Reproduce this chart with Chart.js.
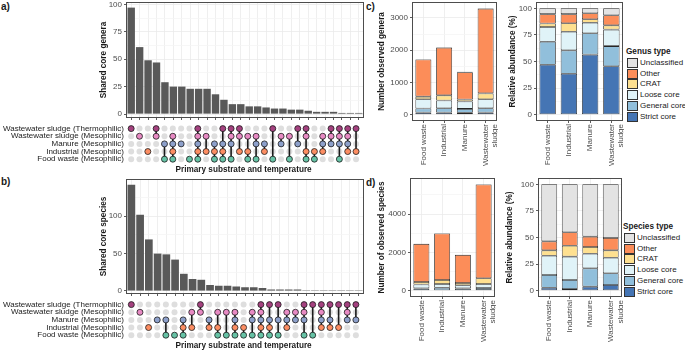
<!DOCTYPE html>
<html lang="en">
<head>
<meta charset="UTF-8">
<title>Shared core genera and species</title>
<script src="https://cdn.jsdelivr.net/npm/chart.js"></script>
<style>
  body { margin: 0; background: #fff; }
  #fig { position: relative; width: 685px; height: 352px; overflow: hidden; background: #fff;
         font-family: "Liberation Sans", Arial, sans-serif; color: #1a1a1a; }
  canvas { position: absolute; }
  .tag { position: absolute; font-weight: bold; font-size: 10px; line-height: 10px; }
  .legtitle { position: absolute; font-weight: bold; font-size: 8.2px; line-height: 10px; white-space: nowrap; }
  .leglab { position: absolute; font-size: 8px; line-height: 10px; white-space: nowrap; }
  .sw { position: absolute; width: 11px; height: 10px; box-sizing: border-box; border: 0.8px solid #333; }
</style>
</head>
<body>
<div id="fig">
  <div class="tag" style="left:1px;top:2px">a)</div>
  <div class="tag" style="left:1px;top:177px">b)</div>
  <div class="tag" style="left:366px;top:2px">c)</div>
  <div class="tag" style="left:366px;top:178px">d)</div>
</div>
<script>
// ---- data ----
// rows of the upset matrix, bottom to top
var rowNames = ['Food waste (Mesophilic)', 'Industrial (Mesophilic)', 'Manure (Mesophilic)',
                'Wastewater sludge (Mesophilic)', 'Wastewater sludge (Thermophilic)'];
var rowColors = ['#66C2A5', '#FC8D62', '#8DA0CB', '#E78AC3', '#A4417F'];

// membership of each column, written top row (WS thermophilic) -> bottom row (food waste)
var generaSets = ['10000', '01000', '00010', '11000', '00101', '01111', '00100', '00001', '11111', '01010',
                  '00111', '10111', '11101', '11010', '01011', '01101', '00110', '10001', '01100', '01001',
                  '10100', '11011', '00011', '01110', '11100', '11101', '11110', '10010'];
var generaShared = [97, 61, 49, 47, 29, 25, 25, 23, 23, 23, 18, 13, 9, 9, 7, 7, 6, 5, 5, 4, 4, 3, 2, 2, 2, 1, 1, 1];

var speciesSets = ['10000', '01000', '00010', '00100', '00101', '00001', '00111', '01010', '11000', '00110',
                   '01011', '01001', '01111', '00011', '01101', '11111', '10111', '10101', '01110', '01100',
                   '11101', '10001', '11110', '10110', '10010', '11100', '10100'];
var speciesShared = [142, 102, 69, 50, 49, 42, 23, 16, 15, 8, 7, 7, 6, 5, 5, 4, 2, 2, 2, 2, 1, 1, 1, 1, 1, 1, 1];

var matrixTitle = 'Primary substrate and temperature';

var substrates = ['Food waste', 'Industrial', 'Manure', ['Wastewater', 'sludge']];
var typeNames = ['Strict core', 'General core', 'Loose core', 'CRAT', 'Other', 'Unclassified'];
var typeColors = ['#4575B4', '#91BFDB', '#E0F3F8', '#FEE090', '#FC8D59', '#E3E3E3'];

// one row per type (same order as typeNames), one value per substrate
var genusCounts = [
  [70, 70, 60, 70],
  [120, 130, 120, 130],
  [290, 240, 230, 280],
  [80, 160, 60, 180],
  [1150, 1480, 850, 2630],
  [10, 10, 10, 10]
];
var genusRel = [
  [47, 38.5, 56.5, 45.5],
  [21.5, 22, 20, 19],
  [14, 17.5, 10, 15.5],
  [3.2, 8, 3.2, 4],
  [8.8, 8.5, 5.7, 9.5],
  [5.5, 5.5, 4.6, 6.5]
];
var speciesCounts = [
  [20, 20, 20, 30],
  [100, 130, 100, 110],
  [200, 200, 160, 210],
  [130, 210, 120, 300],
  [1990, 2430, 1470, 4890],
  [10, 10, 10, 10]
];
var speciesRel = [
  [2.8, 1.5, 3.8, 5.4],
  [12, 8.5, 17.2, 11],
  [18, 22, 13.7, 14.6],
  [5.1, 10.3, 6.3, 6.9],
  [8.5, 12.7, 9.8, 11.6],
  [53.6, 45, 49.2, 50.5]
];

// ---- chart setup ----
Chart.defaults.font.family = '"Liberation Sans", Arial, sans-serif';
Chart.defaults.font.size = 8;
Chart.defaults.color = '#4D4D4D';
Chart.defaults.plugins.legend.display = false;
Chart.defaults.plugins.tooltip.enabled = false;

var fig = document.getElementById('fig');

var panelBorder = {
  id: 'panelBorder',
  afterDraw: function (chart) {
    var a = chart.chartArea, ctx = chart.ctx;
    ctx.save();
    ctx.strokeStyle = '#4D4D4D';
    ctx.lineWidth = 1;
    ctx.strokeRect(a.left - 0.5, a.top - 0.5, a.right - a.left + 1, a.bottom - a.top + 1);
    ctx.restore();
  }
};

function makeCanvas(left, top, w, h) {
  var c = document.createElement('canvas');
  c.width = w; c.height = h;
  c.style.left = left + 'px'; c.style.top = top + 'px';
  c.style.width = w + 'px'; c.style.height = h + 'px';
  fig.appendChild(c);
  return c;
}

function baseOptions(padTop, scales) {
  return {
    responsive: false, animation: false, events: [], devicePixelRatio: 1,
    layout: { padding: { top: padTop, right: 2, left: 0, bottom: 0 } },
    scales: scales
  };
}

function yAxis(o) {
  var all = o.major.concat(o.minor);
  function isMajor(c) { return c.tick && o.major.indexOf(c.tick.value) >= 0; }
  return {
    type: 'linear', min: o.min, max: o.max, stacked: !!o.stacked,
    afterBuildTicks: function (s) { s.ticks = all.map(function (v) { return { value: v }; }); },
    afterFit: function (s) { s.width = o.width; s.paddingTop = 0; s.paddingBottom = 0; },
    ticks: { autoSkip: false, padding: 2, color: '#4D4D4D', font: { size: 8 },
             callback: function (v) { return o.major.indexOf(v) >= 0 ? String(v) : ''; } },
    grid: { tickLength: 3, lineWidth: 0.8,
            color: function (c) { return isMajor(c) ? '#EBEBEB' : '#F5F5F5'; },
            tickColor: function (c) { return isMajor(c) ? '#333333' : 'rgba(0,0,0,0)'; } },
    border: { display: false },
    title: { display: true, text: o.title, color: '#1A1A1A', font: { size: 8.2, weight: 'bold' },
             padding: { top: o.pad, bottom: 0 } }
  };
}

function catAxis(height, showLabels, stacked) {
  return {
    type: 'category', offset: true, stacked: stacked,
    afterFit: function (s) { s.height = height; s.paddingLeft = 0; s.paddingRight = 0; },
    ticks: { display: showLabels, autoSkip: false, minRotation: 90, maxRotation: 90, padding: 1,
             color: '#4D4D4D', font: { size: 8 } },
    grid: { offset: false, color: '#EBEBEB', lineWidth: 0.8, tickColor: '#333333', tickLength: 3 },
    border: { display: false }
  };
}

// upset bars
function upsetBars(left, top, w, h, padTop, sets, values, yOpt) {
  new Chart(makeCanvas(left, top, w, h), {
    type: 'bar',
    data: { labels: sets, datasets: [{ data: values, backgroundColor: '#595959',
            barPercentage: 0.88, categoryPercentage: 1 }] },
    options: baseOptions(padTop, { x: catAxis(5, false, false), y: yAxis(yOpt) }),
    plugins: [panelBorder]
  });
}

// upset dot matrix
function upsetMatrix(left, top, w, h, padTop, xHeight, titlePad, sets) {
  var datasets = [], grey = [];
  rowNames.forEach(function (name, r) {
    var on = [];
    sets.forEach(function (s, k) {
      if (s.charAt(4 - r) === '1') on.push({ x: k, y: r }); else grey.push({ x: k, y: r });
    });
    datasets.push({ data: on, order: 0, clip: false, pointRadius: 3,
                    pointBackgroundColor: rowColors[r], pointBorderColor: '#1A1A1A', pointBorderWidth: 0.8 });
  });
  sets.forEach(function (s, k) {
    var rows = [];
    for (var r = 0; r < 5; r++) if (s.charAt(4 - r) === '1') rows.push(r);
    if (rows.length > 1) {
      datasets.push({ data: [{ x: k, y: rows[0] }, { x: k, y: rows[rows.length - 1] }], order: 1,
                      showLine: true, borderColor: '#1A1A1A', borderWidth: 1.6, pointRadius: 0, clip: false });
    }
  });
  datasets.push({ data: grey, order: 2, clip: false, pointRadius: 3,
                  pointBackgroundColor: '#DEDEDE', pointBorderWidth: 0 });

  new Chart(makeCanvas(left, top, w, h), {
    type: 'scatter',
    data: { datasets: datasets },
    options: baseOptions(padTop, {
      x: { type: 'linear', min: -0.5, max: sets.length - 0.5,
           afterFit: function (s) { s.height = xHeight; s.paddingLeft = 0; s.paddingRight = 0; },
           ticks: { display: false }, grid: { display: false, drawTicks: false }, border: { display: false },
           title: { display: true, text: matrixTitle, color: '#1A1A1A', font: { size: 8.2, weight: 'bold' },
                    padding: { top: 0, bottom: titlePad } } },
      y: { type: 'linear', min: -0.5, max: 4.5,
           afterBuildTicks: function (s) { s.ticks = rowNames.map(function (nm, i) { return { value: i }; }); },
           afterFit: function (s) { s.width = 127 - left; s.paddingTop = 0; s.paddingBottom = 0; },
           ticks: { autoSkip: false, padding: 3, color: '#1A1A1A', font: { size: 8 },
                    callback: function (v) { return rowNames[v]; } },
           grid: { display: false, drawTicks: false }, border: { display: false } }
    })
  });
}

// stacked bars by substrate
function stackedChart(left, top, w, h, padTop, xHeight, rows, yOpt) {
  yOpt.stacked = true;
  new Chart(makeCanvas(left, top, w, h), {
    type: 'bar',
    data: {
      labels: substrates,
      datasets: rows.map(function (vals, i) {
        return { label: typeNames[i], data: vals, backgroundColor: typeColors[i],
                 borderColor: '#262626', borderWidth: 0.8, borderSkipped: false,
                 barPercentage: 0.77, categoryPercentage: 1 };
      })
    },
    options: baseOptions(padTop, { x: catAxis(xHeight, true, true), y: yAxis(yOpt) }),
    plugins: [panelBorder]
  });
}

function addLegend(x, titleY, firstY, title) {
  var t = document.createElement('div');
  t.className = 'legtitle'; t.textContent = title;
  t.style.left = x + 'px'; t.style.top = (titleY - 5) + 'px';
  fig.appendChild(t);
  for (var i = typeNames.length - 1, j = 0; i >= 0; i--, j++) {
    var y = firstY + j * 10.7;
    var sw = document.createElement('div');
    sw.className = 'sw'; sw.style.background = typeColors[i];
    sw.style.left = (x + 1) + 'px'; sw.style.top = Math.round(y - 5) + 'px';
    fig.appendChild(sw);
    var lb = document.createElement('div');
    lb.className = 'leglab'; lb.textContent = typeNames[i];
    lb.style.left = (x + 14) + 'px'; lb.style.top = Math.round(y - 5) + 'px';
    fig.appendChild(lb);
  }
}

var relMajor = [0, 25, 50, 75, 100], relMinor = [12.5, 37.5, 62.5, 87.5];

// a) genera
upsetBars(80, 0, 285, 122, 3, generaSets, generaShared,
  { min: -2.7, max: 101.2, major: relMajor, minor: relMinor, title: 'Shared core genera', width: 47, pad: 19 });
upsetMatrix(0, 120, 365, 60, 3, 17, 5, generaSets);

// b) species
upsetBars(80, 176, 285, 122, 4, speciesSets, speciesShared,
  { min: -2.7, max: 148.5, major: [0, 50, 100], minor: [25, 75, 125], title: 'Shared core species', width: 47, pad: 19 });
upsetMatrix(0, 296, 365, 56, 3, 13, 1, speciesSets);

// c) genus counts and relative abundance
stackedChart(370, 0, 128, 170, 3, 50, genusCounts,
  { min: -165, max: 3465, major: [0, 1000, 2000, 3000], minor: [500, 1500, 2500], title: 'Number observed genera', width: 43, pad: 7 });
stackedChart(503, 0, 121, 170, 3, 50, genusRel,
  { min: -5, max: 105, major: relMajor, minor: relMinor, title: 'Relative abundance (%)', width: 34, pad: 5 });
addLegend(626, 52, 63, 'Genus type');

// d) species counts and relative abundance
stackedChart(370, 176, 126, 176, 3, 56, speciesCounts,
  { min: -277, max: 5827, major: [0, 2000, 4000], minor: [1000, 3000, 5000], title: 'Number of observed species', width: 41, pad: 7 });
stackedChart(502, 176, 121, 176, 3, 56, speciesRel,
  { min: -5, max: 105, major: relMajor, minor: relMinor, title: 'Relative abundance (%)', width: 37, pad: 3 });
addLegend(623, 227, 238, 'Species type');
</script>
</body>
</html>
